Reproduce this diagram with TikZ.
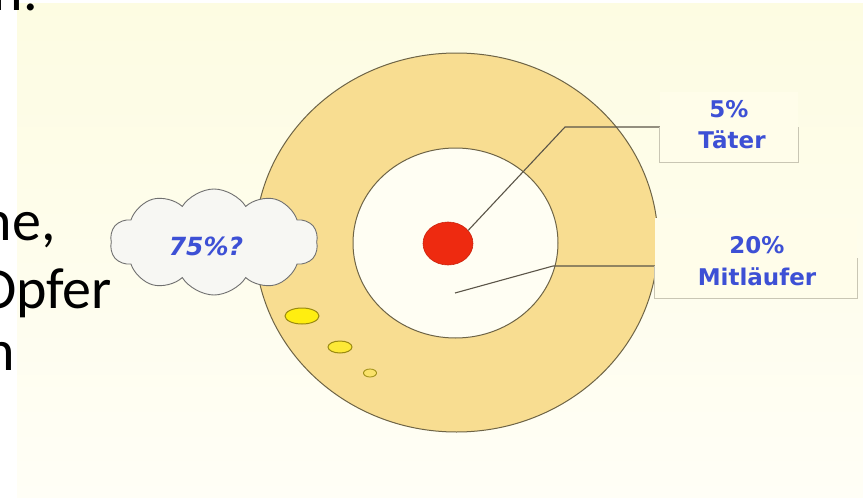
\documentclass[tikz,border=0pt]{standalone}
\usepackage{fontspec}
\setmainfont{Carlito}
\newfontfamily\labelfont{DejaVu Sans}
\usetikzlibrary{shapes.geometric,shapes.symbols}
\definecolor{bgtop}{HTML}{FDFCE2}
\definecolor{bgbot}{HTML}{FFFEF6}
\definecolor{ringfill}{HTML}{F8DD91}
\definecolor{innerfill}{HTML}{FFFEF3}
\definecolor{edgec}{HTML}{6E6446}
\definecolor{connc}{HTML}{5B5548}
\definecolor{redc}{HTML}{EE2A10}
\definecolor{blobfill}{HTML}{FFEE10}
\definecolor{blobedge}{HTML}{9A8A10}
\definecolor{boxfill}{HTML}{FFFDEA}
\definecolor{boxedgec}{HTML}{C9C6B4}
\definecolor{lblblue}{HTML}{3D50D5}
\definecolor{cloudfill}{HTML}{F7F7F3}
\definecolor{cloudedge}{HTML}{707070}
\tikzset{
  ringedge/.style={draw=edgec, line width=1pt},
  conn/.style={draw=connc, line width=1.1pt},
  lbl/.style={text=lblblue, font=\labelfont\bfseries\fontsize{23}{28}\selectfont, inner sep=0pt},
  cloudlbl/.style={text=lblblue, font=\labelfont\bfseries\itshape\fontsize{25}{28}\selectfont, inner sep=0pt},
  bigtxt/.style={font=\fontsize{58}{70}\selectfont, inner sep=0pt, text=black},
  blob/.style={ellipse, fill=blobfill, draw=blobedge, line width=1pt, inner sep=0pt},
  lblbox/.style={rectangle, fill=boxfill, draw=none, inner sep=0pt},
  boxedge/.style={draw=boxedgec, line width=0.9pt},
  ring/.style={ellipse, inner sep=0pt}
}
\begin{document}
\begin{tikzpicture}[x=1pt,y=-1pt]
\useasboundingbox (0,0) rectangle (863,498);
\clip (0,0) rectangle (863,498);
\fill[white] (0,0) rectangle (863,498);
\shade[top color=bgtop, bottom color=bgbot] (17,3) rectangle (863,498);
% circles
\node[ring, minimum width=403pt, minimum height=379pt, fill=ringfill, ringedge] (outer) at (456.5,242.5) {};
\node[ring, minimum width=205pt, minimum height=190pt, fill=innerfill, ringedge] (inner) at (455.5,243) {};
\node[ring, minimum width=50pt, minimum height=43pt, fill=redc, draw=redc!85!black, line width=0.6pt] (core) at (448,243.5) {};
% thought bubbles
\node[blob, minimum width=34pt, minimum height=16pt] (b1) at (302,316) {};
\node[blob, minimum width=24pt, minimum height=12pt, fill=blobfill!70!ringfill] (b2) at (340,347) {};
\node[blob, minimum width=13pt, minimum height=8pt, fill=blobfill!30!ringfill, line width=0.8pt] (b3) at (370,373) {};
% label boxes
\node[lblbox, minimum width=138pt, minimum height=70pt] (tbox) at (729,127) {};
\node[lblbox, minimum width=202pt, minimum height=80pt] (mbox) at (756,258) {};
% connectors
\coordinate (tk) at (565,127);
\coordinate (mk) at (553,266);
\coordinate (mstart) at (455,293);
\draw[conn] (core.33) -- (tk) -- (tbox.west);
\draw[conn] (mstart) -- (mk) -- (mbox.west |- mk);
\draw[boxedge] (tbox.west) -- (tbox.south west) -- (tbox.south east) -- (tbox.east);
\draw[boxedge] (mbox.west |- mk) -- (mbox.south west) -- (mbox.south east) -- (mbox.east);
% labels
\node[lbl, anchor=base] (t5) at (729,117) {5\%};
\node[lbl, anchor=base] (tt) at (732,148) {Täter};
\node[lbl, anchor=base] (m20) at (757,253) {20\%};
\node[lbl, anchor=base] (mm) at (757,285) {Mitläufer};
% cloud
\node[cloud, cloud puffs=10, cloud puff arc=115, aspect=2, minimum width=208pt, minimum height=106pt, inner sep=0pt, fill=cloudfill, draw=cloudedge, line width=0.9pt] (cloud) at (214,242) {};
\node[cloudlbl] (c75) at (206,246) {75\%?};
% cut-off slide text
\node[bigtxt, anchor=base east] (l1) at (38,10) {n.};
\node[bigtxt, anchor=base east] (l2) at (56,240) {ne,};
\node[bigtxt, anchor=base east] (l3) at (112,308) {Opfer};
\node[bigtxt, anchor=base east] (l4) at (15,370) {n};
\end{tikzpicture}
\end{document}
